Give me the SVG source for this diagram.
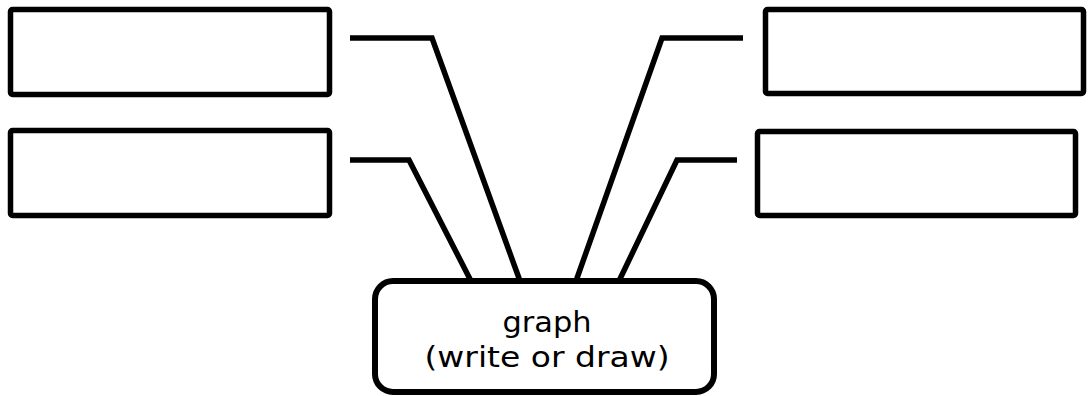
<svg xmlns="http://www.w3.org/2000/svg" width="1092" height="396" viewBox="0 0 1092 396">
  <style>
    .box { fill: #ffffff; stroke: #000000; stroke-width: 5.5; stroke-linejoin: round; }
    .main { fill: #ffffff; stroke: #000000; stroke-width: 6; }
    .conn { fill: none; stroke: #000000; stroke-width: 5.5; stroke-linejoin: miter; stroke-linecap: butt; }
    .label { font-family: "DejaVu Sans", "Liberation Sans", sans-serif; font-size: 29px; fill: #000000; text-anchor: middle; }
  </style>
  <rect width="1092" height="396" fill="#ffffff"/>
  <g id="connectors">
    <polyline class="conn" points="350,38 432,38 520,281"/>
    <polyline class="conn" points="350,160 409,160 471,281"/>
    <polyline class="conn" points="743,38 662,38 576,281"/>
    <polyline class="conn" points="737,160 677,160 619,281"/>
  </g>
  <g id="box-top-left">
    <rect class="box" x="10.5" y="9.5" width="319" height="85" rx="2"/>
  </g>
  <g id="box-bottom-left">
    <rect class="box" x="10.5" y="130.5" width="319" height="85" rx="2"/>
  </g>
  <g id="box-top-right">
    <rect class="box" x="765.5" y="9.5" width="318" height="84" rx="2"/>
  </g>
  <g id="box-bottom-right">
    <rect class="box" x="757.5" y="131.5" width="318" height="84" rx="2"/>
  </g>
  <g id="graph">
    <rect class="main" x="375" y="281" width="339" height="111" rx="18"/>
    <text class="label" x="547" y="332" textLength="89" lengthAdjust="spacingAndGlyphs">graph</text>
    <text class="label" x="547" y="367" textLength="245" lengthAdjust="spacingAndGlyphs">(write or draw)</text>
  </g>
</svg>
